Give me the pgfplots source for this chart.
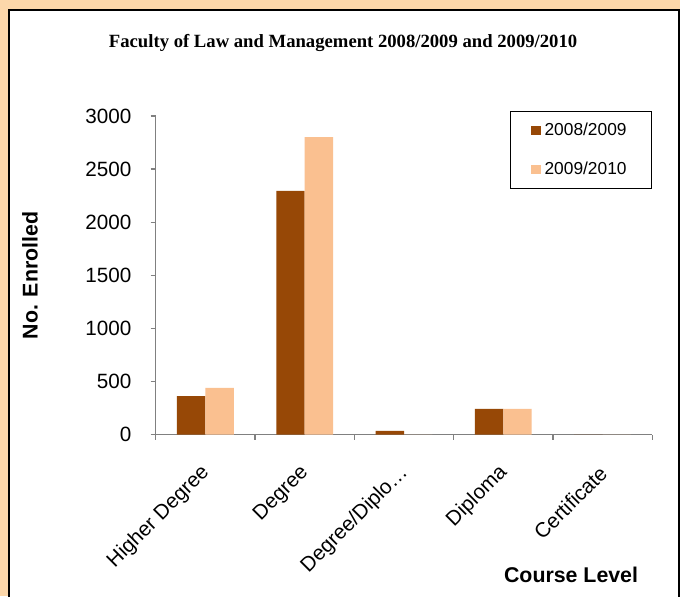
\documentclass[border=0pt]{standalone}
\usepackage{pgfplots}
\pgfplotsset{compat=1.18}
\usepackage{fontspec}
\setmainfont{Liberation Sans}
\newfontfamily\titlefont{Liberation Serif}
\definecolor{cA}{RGB}{151,72,6}
\definecolor{cB}{RGB}{250,192,144}
\definecolor{glow}{RGB}{252,215,170}
\begin{document}
\begin{tikzpicture}
\useasboundingbox (0,0) rectangle (510pt,447pt);
\begin{scope}
\clip (0,0) rectangle (510pt,447pt);
\fill[glow] (0,0) rectangle (510pt,447pt);
\fill[white, draw=black, line width=1.5pt] (7pt,-10pt) rectangle (509.3pt,439.5pt);
\end{scope}
\begin{axis}[
 at={(116.8pt,121pt)}, anchor=south west,
 scale only axis, width=372.4pt, height=239pt,
 xmin=-0.5, xmax=4.5, ymin=0, ymax=3000,
 ybar=0pt, bar width=21.3pt,
 axis x line*=bottom, axis y line*=left,
 axis line style={draw=gray, line width=1pt},
 xtick={0,1,2,3,4},
 xticklabels={Higher Degree, Degree, Degree/Diplo…, Diploma, Certificate},
 minor xtick={-0.5,0.5,1.5,2.5,3.5,4.5},
 ytick={0,500,...,3000},
 tick align=outside,
 major tick length=3.75pt, minor tick length=3.75pt,
 tick style={gray, line width=1pt},
 major x tick style={draw=none},
 ticklabel style={font=\fontsize{15.5}{18}\selectfont},
 xticklabel style={xshift=3pt, yshift=-20pt, rotate=45, anchor=east},
 yticklabel style={xshift=-11pt},
 /pgf/number format/assume math mode=true,
 /pgf/number format/1000 sep={},
 legend style={at={(1,1)}, anchor=north east, yshift=3.75pt,
   font=\fontsize{13}{15}\selectfont, draw=black, line width=0.6pt,
   inner xsep=16pt, inner ysep=7pt, row sep=14pt, cells={anchor=west},
   nodes={inner xsep=3pt}},
 legend image code/.code={\fill[#1] (0pt,-3.5pt) rectangle (7pt,3.5pt);},
]
\addplot[fill=cA, draw=none] coordinates {(0,363) (1,2295) (2,35) (3,242) (4,0)};
\addlegendentry{2008/2009}
\addplot[fill=cB, draw=none] coordinates {(0,440) (1,2800) (2,0) (3,242) (4,0)};
\addlegendentry{2009/2010}
\end{axis}
\node[font=\titlefont\bfseries\fontsize{14}{16}\selectfont] at (257.3pt,414.75pt) {Faculty of Law and Management 2008/2009 and 2009/2010};
\node[font=\bfseries\fontsize{16}{19}\selectfont, rotate=90] at (22.5pt,240.4pt) {No. Enrolled};
\node[font=\bfseries\fontsize{16}{19}\selectfont] at (428.3pt,15.75pt) {Course Level};
\end{tikzpicture}
\end{document}
